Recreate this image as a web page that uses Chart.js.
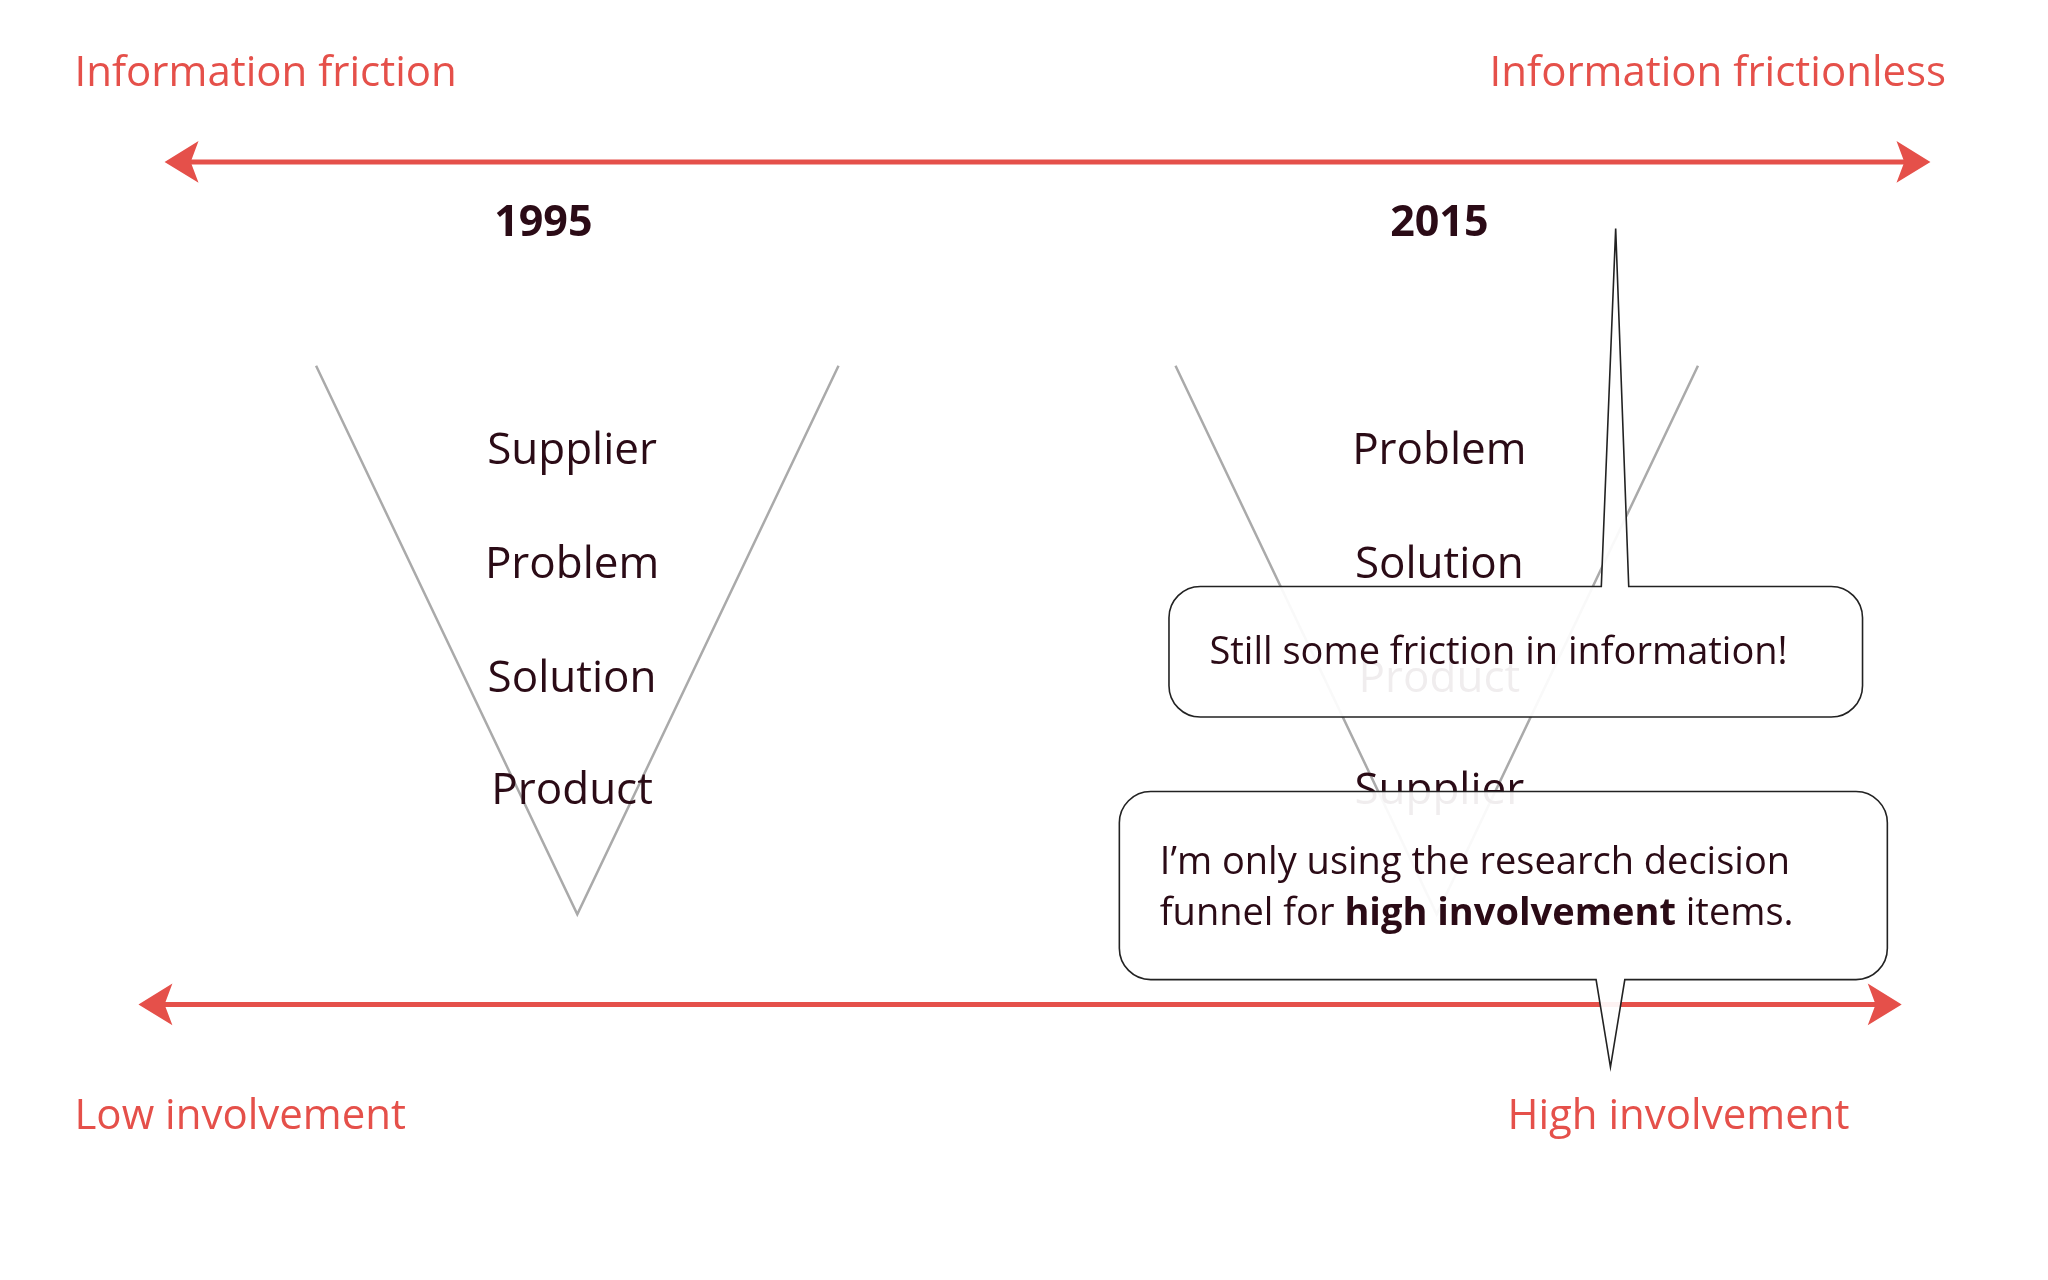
<!DOCTYPE html>
<html><head><meta charset="utf-8">
<script src="https://cdn.jsdelivr.net/npm/chart.js@4"></script>
<style>html,body{margin:0;padding:0;background:#fff}canvas{display:block}</style>
</head><body>
<canvas id="c" width="2048" height="1280"></canvas>
<script>
// Reference coordinate space 1568 x 980
const years = ["1995", "2015"];
const funnel1995 = ["Supplier", "Problem", "Solution", "Product"];
const funnel2015 = ["Problem", "Solution", "Product", "Supplier"];
const axisTopLabels = ["Information friction", "Information frictionless"];
const axisBottomLabels = ["Low involvement", "High involvement"];
const vLeft = [{x:242,y:280},{x:442,y:700},{x:642,y:280}];
const vRight = [{x:900,y:280},{x:1100,y:700},{x:1300,y:280}];
const arrowTop = [{x:140,y:124},{x:1464,y:124}];
const arrowBottom = [{x:120,y:769},{x:1442,y:769}];
const callout1 = "Still some friction in information!";
const callout2 = ["I\u2019m only using the research decision", "funnel for ", "high involvement", " items."];

const RED = "#e5504a", DARK = "#2b0b16", GREY = "#aaaaaa";
const FONT = "'Open Sans', sans-serif";

const plugin = {
  id: 'diagram',
  afterDatasetsDraw(chart) {
    const ctx = chart.ctx, xs = chart.scales.x, ys = chart.scales.y;
    const X = v => xs.getPixelForValue(v), Y = v => ys.getPixelForValue(v);
    const k = 2048/1568;
    ctx.save();
    function head(x, y, dir) {
      ctx.fillStyle = RED; ctx.beginPath();
      ctx.moveTo(X(x + dir*14), Y(y));
      ctx.lineTo(X(x - dir*12), Y(y - 16));
      ctx.lineTo(X(x - dir*6), Y(y));
      ctx.lineTo(X(x - dir*12), Y(y + 16));
      ctx.closePath(); ctx.fill();
    }
    head(arrowTop[0].x, 124, -1); head(arrowTop[1].x, 124, 1);
    head(arrowBottom[0].x, 769, -1); head(arrowBottom[1].x, 769, 1);
    ctx.fillStyle = RED; ctx.textBaseline = 'middle';
    ctx.font = `${Math.round(32*k)}px ${FONT}`;
    ctx.textAlign = 'left'; ctx.fillText(axisTopLabels[0], X(57), Y(57));
    ctx.textAlign = 'right'; ctx.fillText(axisTopLabels[1], X(1490), Y(57));
    ctx.textAlign = 'left'; ctx.fillText(axisBottomLabels[0], X(57), Y(855));
    ctx.textAlign = 'right'; ctx.fillText(axisBottomLabels[1], X(1416), Y(855));
    ctx.fillStyle = DARK; ctx.textAlign = 'center';
    ctx.font = `bold ${Math.round(33*k)}px ${FONT}`;
    ctx.fillText(years[0], X(416), Y(171));
    ctx.fillText(years[1], X(1102), Y(171));
    ctx.font = `${Math.round(34*k)}px ${FONT}`;
    const rows = [346, 433, 520, 606];
    funnel1995.forEach((w,i) => ctx.fillText(w, X(438), Y(rows[i])));
    funnel2015.forEach((w,i) => ctx.fillText(w, X(1102), Y(rows[i])));
    function bubble(x0, y0, x1, y1, tail) {
      const r = 24*k;
      const L = X(x0), T = Y(y0), R = X(x1), B = Y(y1);
      ctx.beginPath();
      ctx.moveTo(L + r, T);
      if (tail.up) { ctx.lineTo(X(tail.a), T); ctx.lineTo(X(tail.tx), Y(tail.ty)); ctx.lineTo(X(tail.b), T); }
      ctx.lineTo(R - r, T); ctx.arcTo(R, T, R, T + r, r);
      ctx.lineTo(R, B - r); ctx.arcTo(R, B, R - r, B, r);
      if (!tail.up) { ctx.lineTo(X(tail.b), B); ctx.lineTo(X(tail.tx), Y(tail.ty)); ctx.lineTo(X(tail.a), B); }
      ctx.lineTo(L + r, B); ctx.arcTo(L, B, L, B - r, r);
      ctx.lineTo(L, T + r); ctx.arcTo(L, T, L + r, T, r);
      ctx.closePath();
      ctx.fillStyle = 'rgba(255,255,255,0.93)'; ctx.fill();
      ctx.strokeStyle = '#222'; ctx.lineWidth = 1.6; ctx.stroke();
    }
    bubble(895, 449, 1426, 549, {up:true, a:1226, b:1247, tx:1237, ty:175});
    bubble(857, 606, 1445, 750, {up:false, a:1222, b:1244, tx:1233, ty:817});
    ctx.fillStyle = DARK; ctx.textAlign = 'left';
    ctx.font = `${Math.round(29*k)}px ${FONT}`;
    ctx.fillText(callout1, X(926), Y(500));
    ctx.fillText(callout2[0], X(888), Y(661));
    let x = X(888);
    ctx.fillText(callout2[1], x, Y(700)); x += ctx.measureText(callout2[1]).width;
    ctx.font = `bold ${Math.round(29*k)}px ${FONT}`;
    ctx.fillText(callout2[2], x, Y(700)); x += ctx.measureText(callout2[2]).width;
    ctx.font = `${Math.round(29*k)}px ${FONT}`;
    ctx.fillText(callout2[3], x, Y(700));
    ctx.restore();
  }
};

new Chart(document.getElementById('c'), {
  type: 'scatter',
  data: { datasets: [
    { data: vLeft, showLine: true, borderColor: GREY, borderWidth: 2.5, pointRadius: 0, tension: 0 },
    { data: vRight, showLine: true, borderColor: GREY, borderWidth: 2.5, pointRadius: 0, tension: 0 },
    { data: arrowTop, showLine: true, borderColor: RED, borderWidth: 5, pointRadius: 0 },
    { data: arrowBottom, showLine: true, borderColor: RED, borderWidth: 5, pointRadius: 0 }
  ]},
  options: {
    responsive: false, animation: false, devicePixelRatio: 1,
    layout: { padding: 0 },
    plugins: { legend: { display: false }, tooltip: { enabled: false } },
    scales: {
      x: { type: 'linear', min: 0, max: 1568, display: false },
      y: { type: 'linear', min: 0, max: 980, reverse: true, display: false }
    }
  },
  plugins: [plugin]
});
</script>
</body></html>
